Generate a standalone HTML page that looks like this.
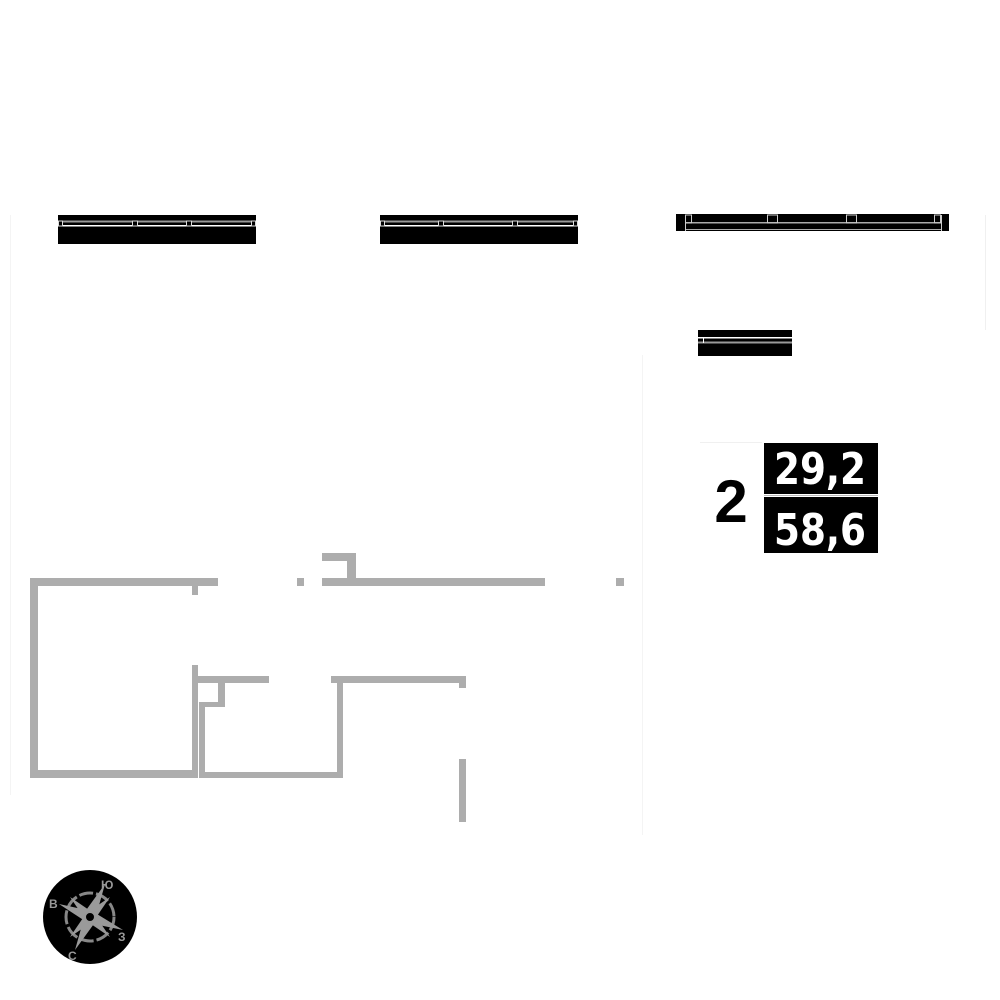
<!DOCTYPE html>
<html><head><meta charset="utf-8"><style>
body{margin:0;background:#fff;width:1000px;height:1000px;overflow:hidden;position:relative;font-family:"Liberation Sans","DejaVu Sans",sans-serif}
</style></head><body>
<svg width="1000" height="1000" viewBox="0 0 1000 1000" style="position:absolute;left:0;top:0">
<line x1="10.5" y1="215" x2="10.5" y2="795" stroke="#f4f4f4"/>
<line x1="985.5" y1="215" x2="985.5" y2="330" stroke="#f0f0f0"/>
<line x1="642.5" y1="355" x2="642.5" y2="835" stroke="#f4f4f4"/>
<g>
<rect x="58" y="215" width="198" height="29" fill="#000"/>
<rect x="58" y="220.5" width="198" height="2" fill="#999"/>
<rect x="58" y="225" width="198" height="1.5" fill="#fff"/>
<g fill="#000" stroke="#ddd" stroke-width="1"><rect x="58.5" y="221" width="4" height="5"/><rect x="132.5" y="221" width="5" height="5"/><rect x="186.5" y="221" width="5" height="5"/><rect x="251.5" y="221" width="4" height="5"/></g>
</g>
<g>
<rect x="380" y="215" width="198" height="29" fill="#000"/>
<rect x="380" y="220.5" width="198" height="2" fill="#999"/>
<rect x="380" y="225" width="198" height="1.5" fill="#fff"/>
<g fill="#000" stroke="#ddd" stroke-width="1"><rect x="380.5" y="221" width="4" height="5"/><rect x="438.5" y="221" width="5" height="5"/><rect x="512.5" y="221" width="5" height="5"/><rect x="573.5" y="221" width="4" height="5"/></g>
</g>
<g>
<rect x="676" y="214" width="273" height="17" fill="#000"/>
<rect x="685" y="222" width="257" height="1.5" fill="#aaa"/>
<rect x="685" y="229" width="257" height="1" fill="#aaa"/>
<g fill="none" stroke="#ccc" stroke-width="1"><rect x="685.5" y="215" width="6" height="8"/><rect x="767.5" y="215" width="10" height="8"/><rect x="846.5" y="215" width="10" height="8"/><rect x="934.5" y="215" width="6" height="8"/></g>
<line x1="685.5" y1="215" x2="685.5" y2="231" stroke="#ccc"/>
<line x1="941.5" y1="215" x2="941.5" y2="231" stroke="#ccc"/>
</g>
<g>
<rect x="698" y="330" width="94" height="26" fill="#000"/>
<rect x="698" y="337" width="94" height="1.5" fill="#fff"/>
<rect x="698" y="341.5" width="94" height="2" fill="#999"/>
<rect x="703" y="337" width="1" height="6" fill="#fff"/>
</g>
<g fill="#adadad">
<rect x="30" y="578" width="188" height="8"/>
<rect x="30" y="578" width="8" height="200"/>
<rect x="30" y="770" width="168" height="8"/>
<rect x="192" y="586" width="6" height="9"/>
<rect x="192" y="665" width="6" height="113"/>
<rect x="198" y="676" width="71" height="7"/>
<rect x="218" y="683" width="7" height="24"/>
<rect x="199" y="702" width="26" height="5"/>
<rect x="199" y="702" width="6" height="76"/>
<rect x="199" y="772" width="144" height="6"/>
<rect x="337" y="676" width="6" height="102"/>
<rect x="331" y="676" width="135" height="7"/>
<rect x="459" y="683" width="7" height="5"/>
<rect x="459" y="759" width="7" height="63"/>
<rect x="297" y="578" width="7" height="8"/>
<rect x="322" y="553" width="34" height="8"/>
<rect x="347" y="553" width="9" height="33"/>
<rect x="322" y="578" width="223" height="8"/>
<rect x="616" y="578" width="8" height="8"/>
</g>
<line x1="700" y1="442.5" x2="762" y2="442.5" stroke="#f0f0f0"/>
<rect x="764" y="443" width="114" height="51" fill="#000"/>
<rect x="764" y="497" width="114" height="56" fill="#000"/>
<line x1="764" y1="495.5" x2="878" y2="495.5" stroke="#bbb"/>
<text x="731" y="522" font-size="60" font-weight="bold" text-anchor="middle" fill="#000" font-family="Liberation Sans,sans-serif">2</text>
<text x="820" y="484" font-size="44" font-weight="bold" text-anchor="middle" fill="#fff" font-family="DejaVu Sans,sans-serif" textLength="92" lengthAdjust="spacingAndGlyphs">29,2</text>
<text x="820" y="545" font-size="44" font-weight="bold" text-anchor="middle" fill="#fff" font-family="DejaVu Sans,sans-serif" textLength="92" lengthAdjust="spacingAndGlyphs">58,6</text>
<circle cx="90" cy="917" r="47" fill="#000"/>
<circle cx="90" cy="917" r="24" fill="none" stroke="#888" stroke-width="3" stroke-dasharray="14 3"/>
<g fill="#9a9a9a">
<polygon points="105,884 96,916 84,913"/>
<polygon points="75,950 84,918 96,921"/>
<polygon points="59,904 91,911 88,923"/>
<polygon points="123,930 89,923 92,911"/>
<polygon points="70,897 92,912 85,919"/>
<polygon points="110,937 88,922 95,915"/>
<polygon points="110,897 95,919 88,912"/>
<polygon points="70,937 85,915 92,922"/>
</g>
<circle cx="90" cy="917" r="5" fill="#000" stroke="#999" stroke-width="2"/>
<g fill="#999" font-size="12" font-weight="bold" font-family="Liberation Sans,sans-serif">
<text x="49" y="908">В</text><text x="101" y="889">Ю</text><text x="118" y="941">З</text><text x="68" y="960">С</text>
</g>
</svg>
</body></html>
